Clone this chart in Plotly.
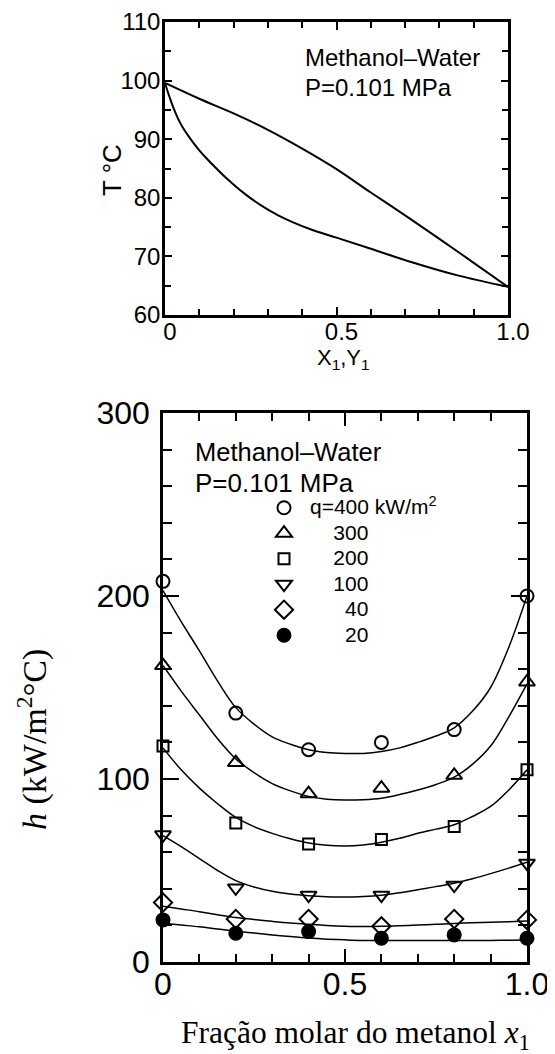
import plotly.graph_objects as go

# ---------------- Top panel: T-x-y diagram, methanol-water ----------------
x_dew = [0, 0.1, 0.2, 0.3, 0.4, 0.5, 0.6, 0.7, 0.8, 0.9, 1.0]
t_dew = [99.6, 96.9, 94.4, 91.6, 88.4, 84.9, 80.9, 77.0, 73.0, 68.9, 64.8]
x_bub = [0, 0.008, 0.015, 0.025, 0.035, 0.045, 0.055, 0.07, 0.085, 0.1, 0.12, 0.15, 0.18, 0.23, 0.28, 0.33,
         0.37, 0.43, 0.5, 0.6, 0.72, 0.85, 1.0]
t_bub = [99.6, 98.1, 96.9, 95.3, 93.9, 92.7, 91.7, 90.4, 89.2, 88.1, 86.8, 85.0, 83.3, 80.8, 78.7, 77.0,
         75.9, 74.5, 73.2, 71.3, 69.0, 66.8, 64.8]

# ---------------- Bottom panel: heat transfer coefficient ----------------
x_meas = [0, 0.2, 0.4, 0.6, 0.8, 1.0]
q_names = ["q=400 kW/m<sup>2</sup>", "\u00a0\u00a0\u00a0\u00a0300", "\u00a0\u00a0\u00a0\u00a0200",
           "\u00a0\u00a0\u00a0\u00a0100", "\u00a0\u00a0\u00a0\u00a0\u00a0\u00a040",
           "\u00a0\u00a0\u00a0\u00a0\u00a0\u00a020"]
h400 = [208, 136, 116, 120, 127, 200]
h300 = [162, 109, 92, 95, 102, 153]
h200 = [118, 76, 64.5, 67, 74, 105]
h100 = [69.5, 40.5, 36.5, 36.5, 42, 54]
h40 = [32.5, 23.5, 23.5, 19.5, 23.5, 23]
h20 = [23, 15.7, 16.6, 13, 14.8, 13]

x_fit = [0, 0.05, 0.1, 0.15, 0.2, 0.25, 0.3, 0.35, 0.4, 0.45, 0.5,
         0.55, 0.6, 0.65, 0.7, 0.75, 0.8, 0.85, 0.9, 0.95, 1.0]
fit400 = [203, 186, 170, 153.5, 139, 130, 123, 119, 116, 114.5, 114,
          114, 115, 117, 120, 123.5, 128, 137, 150, 172, 200]
fit300 = [162, 148, 135, 122, 111, 103.5, 97.5, 93.5, 90.5, 89, 88.5,
          88.7, 89.5, 91.5, 94, 97, 101, 108, 118, 134, 152]
fit200 = [117, 105, 95, 86.5, 79, 74, 70.3, 67.3, 65, 63.8, 63.4,
          64, 65.5, 67.6, 70.3, 72.6, 75, 79.5, 85, 94, 105]
fit100 = [69, 63, 56.5, 50, 44.5, 41, 38.6, 37.1, 36.2, 35.7, 35.5,
          35.8, 36.5, 37.8, 39.5, 41.2, 43, 45.5, 48.3, 51.3, 54.5]
fit40 = [30.5, 29, 27.5, 25.8, 24.3, 23.2, 22.2, 21.3, 20.6, 20, 19.6,
         19.4, 19.5, 19.8, 20.2, 20.6, 21.1, 21.4, 21.7, 22, 22.4]
fit20 = [21.2, 20.2, 19.2, 18, 16.8, 15.8, 14.8, 13.9, 13.1, 12.5, 12.1,
         11.8, 11.7, 11.7, 11.7, 11.7, 11.7, 11.8, 11.8, 11.9, 12]

x_tickvals = [0, 0.5, 1.0]
x_ticktext = ["0", "0.5", "1.0"]

h_series = [h400, h300, h200, h100, h40, h20]
fit_series = [fit400, fit300, fit200, fit100, fit40, fit20]
symbols = ["circle-open", "triangle-up-open", "square-open", "triangle-down-open", "diamond-open", "circle"]
sizes = [13, 14, 11, 14, 14, 13]

OFF = 8                      # page body margin
W, H = 555 - OFF, 1054 - OFF
FONT = "Liberation Sans, Arial, sans-serif"
SERIF = "Liberation Serif, Times New Roman, serif"

fig = go.Figure()

# top curves
fig.add_trace(go.Scatter(x=x_dew, y=t_dew, mode="lines", line=dict(color="black", width=2, shape="spline"),
                         showlegend=False, xaxis="x", yaxis="y"))
fig.add_trace(go.Scatter(x=x_bub, y=t_bub, mode="lines", line=dict(color="black", width=2, shape="spline"),
                         showlegend=False, xaxis="x", yaxis="y"))

# bottom fitted curves
for fit in fit_series:
    fig.add_trace(go.Scatter(x=x_fit, y=fit, mode="lines", line=dict(color="black", width=1.5, shape="spline"),
                             showlegend=False, xaxis="x2", yaxis="y2"))

# bottom measured points
for name, hs, sym, sz in zip(q_names, h_series, symbols, sizes):
    fig.add_trace(go.Scatter(
        x=x_meas, y=hs, mode="markers", cliponaxis=False,
        name='<span style="font-size:21px">' + name + '</span>',
        marker=dict(symbol=sym, size=sz, color="black", line=dict(color="black", width=2)),
        xaxis="x2", yaxis="y2"))


def px_x(p):
    return (p - OFF) / W


def px_y(p):
    return 1 - (p - OFF) / H


axis_common = dict(showline=True, linecolor="black", linewidth=2.5, mirror="ticks", ticks="inside",
                   tickcolor="black", tickwidth=2, showgrid=False, zeroline=False, automargin=False)


def label(text, x, y, size, family=FONT, angle=0):
    return dict(text=text, x=px_x(x), y=px_y(y), xref="paper", yref="paper", xanchor="center",
                yanchor="middle", showarrow=False, textangle=angle, font=dict(size=size, family=family))


def note(text, x, y, size):
    return dict(text=text, x=px_x(x), y=px_y(y), xref="paper", yref="paper", xanchor="left",
                yanchor="middle", showarrow=False, font=dict(size=size, family=FONT))


fig.update_layout(
    width=W, height=H, margin=dict(l=0, r=0, t=0, b=0),
    paper_bgcolor="white", plot_bgcolor="white",
    font=dict(family=FONT, color="black"),
    xaxis=dict(domain=[px_x(165), px_x(508)], anchor="y", range=[0, 1],
               tickvals=x_tickvals, ticktext=x_ticktext, ticklen=8,
               minor=dict(dtick=0.1, ticks="inside", ticklen=6, tickcolor="black", tickwidth=1.5),
               tickfont=dict(size=24, family=FONT), ticklabelstandoff=-7, ticklabelshift=5,
               **axis_common),
    yaxis=dict(domain=[px_y(315), px_y(22)], anchor="x", range=[60, 110], dtick=10, ticklen=7,
               minor=dict(dtick=5, ticks="inside", ticklen=6, tickcolor="black", tickwidth=1.5),
               tickfont=dict(size=24, family=FONT), ticklabelstandoff=-3,
               **axis_common),
    xaxis2=dict(domain=[px_x(163), px_x(527)], anchor="y2", range=[0, 1],
                tickvals=x_tickvals, ticktext=x_ticktext, ticklen=13,
                minor=dict(dtick=0.1, ticks="inside", ticklen=8, tickcolor="black", tickwidth=1.5),
                tickfont=dict(size=32, family=FONT), ticklabelstandoff=-8,
                **axis_common),
    yaxis2=dict(domain=[px_y(962), px_y(413)], anchor="x2", range=[0, 300], dtick=100, ticklen=16,
                minor=dict(dtick=20, ticks="inside", ticklen=9, tickcolor="black", tickwidth=1.5),
                tickfont=dict(size=32, family=FONT), ticklabelstandoff=4,
                **axis_common),
    legend=dict(x=px_x(258), y=px_y(490), xanchor="left", yanchor="top",
                bgcolor="rgba(0,0,0,0)", font=dict(size=17.3, family=FONT), itemwidth=42),
    annotations=[
        # axis titles
        label("T °C", 112, 170, 26, angle=-90),
        label("X<sub>1</sub>,Y<sub>1</sub>", 343, 359, 22),
        label("<i>h</i> (kW/m<sup>2</sup>°C)", 32, 740, 34, family=SERIF, angle=-90),
        label("Fração molar do metanol <i>x</i><sub>1</sub>", 355, 1035, 31.5, family=SERIF),
        # in-plot notes
        note("Methanol–Water", 303, 57, 24),
        note("P=0.101 MPa", 303, 87, 24),
        note("Methanol–Water", 193, 452, 25.5),
        note("P=0.101 MPa", 193, 483, 26),
    ],
)

fig.write_html("out.html")
